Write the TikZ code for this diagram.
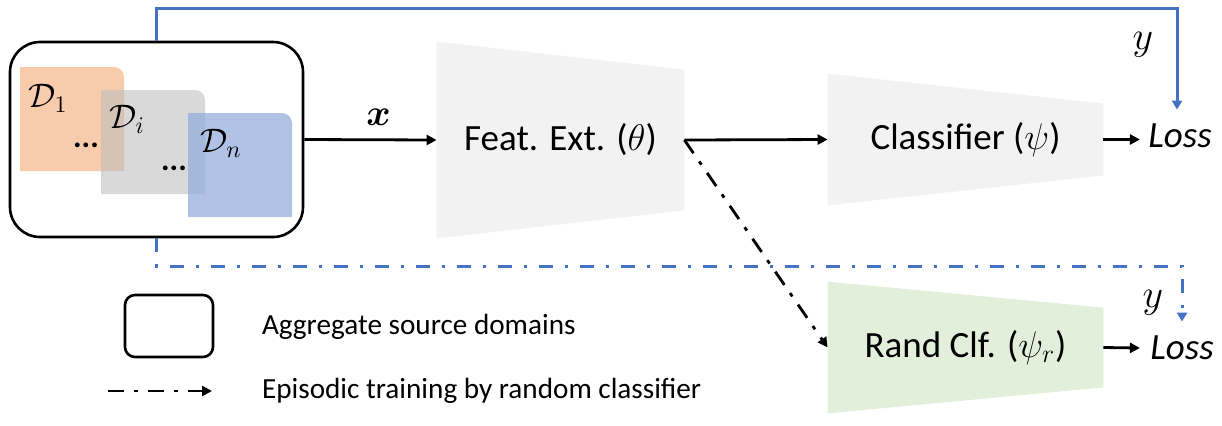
\RequirePackage{fix-cm}
\documentclass[tikz,border=0pt]{standalone}
\usepackage{amsmath,amssymb}
\usepackage{fontspec}
\setmainfont{Carlito}
\usetikzlibrary{arrows.meta}
\definecolor{fegray}{HTML}{F2F2F2}
\definecolor{clfgreen}{HTML}{E2EFDA}
\definecolor{dorange}{HTML}{F8CBAD}
\definecolor{dgray}{HTML}{BFBFBF}
\definecolor{dblue}{HTML}{8FAADC}
\definecolor{lblue}{HTML}{4472C4}
\tikzset{
  arr/.style={line width=1.4pt,-{Triangle[length=5pt,width=5pt]}},
  epi/.style={arr,dash pattern=on 8pt off 5pt on 2pt off 5pt},
  yline/.style={line width=1.5pt,lblue,-{Triangle[length=4.5pt,width=5pt]}},
  ydash/.style={yline,dash pattern=on 7pt off 6pt on 1.5pt off 6pt},
  srcbox/.style={draw,line width=1.3pt,rounded corners=#1},
  blk/.style={inner sep=0pt}
}

\begin{document}
\begin{tikzpicture}
    [x=0.5pt,y=-0.5pt,every node/.style={font=\fontsize{18.5pt}{22pt}\selectfont}]
    \useasboundingbox (0,0) rectangle (1222,425);
    % aggregated source domains
    \node[srcbox=15pt,minimum width=146.5pt,minimum height=97.5pt] (src) at (156.5,139.5) {};
    \foreach \px/\py/\col/\op in {20/67/dorange/1,101/90/dgray/0.6,188/113/dblue/0.7}
      \fill[\col,fill opacity=\op] (\px,\py+104) -- (\px,\py) -- (\px+80,\py) [rounded corners=5pt]
        -- (\px+104,\py) -- (\px+104,\py+40) [sharp corners] -- (\px+104,\py+104) -- cycle;
    \node[font=\fontsize{17pt}{20pt}\selectfont] (d1) at (48,98) {$\mathcal{D}_1$};
    \node[font=\fontsize{17pt}{20pt}\selectfont] (di) at (127,119) {$\mathcal{D}_i$};
    \node[font=\fontsize{17pt}{20pt}\selectfont] (dn) at (221,143) {$\mathcal{D}_n$};
    \node[font=\fontsize{16pt}{18pt}\bfseries] (dots1) at (86,145) {...};
    \node[font=\fontsize{16pt}{18pt}\bfseries] (dots2) at (174,168) {...};

    % feature extractor and classifiers
    \node[blk,minimum width=123.5pt,minimum height=98pt] (fe) at (560.5,140) {};
    \fill[fegray] (fe.north west) -- ([yshift=-14pt]fe.north east) -- ([yshift=14pt]fe.south east) -- (fe.south west) -- cycle;
    \node at (fe) {Feat. Ext. ($\theta$)};
    \node[blk,minimum width=137.5pt,minimum height=65.5pt] (clf) at (965.5,139.5) {};
    \fill[fegray] (clf.north west) -- ([yshift=-15pt]clf.north east) -- ([yshift=15pt]clf.south east) -- (clf.south west) -- cycle;
    \node at (clf) {Classifier ($\psi$)};
    \node[blk,minimum width=137.5pt,minimum height=65.5pt] (rclf) at (965.5,347.5) {};
    \fill[clfgreen] (rclf.north west) -- ([yshift=-13pt]rclf.north east) -- ([yshift=13pt]rclf.south east) -- (rclf.south west) -- cycle;
    \node at (rclf) {Rand Clf. ($\psi_r$)};

    \node[inner xsep=4pt,inner ysep=1pt] (loss1) at (1180,136) {\textit{Loss}};
    \node[inner xsep=5pt,inner ysep=1pt] (loss2) at (1182,348) {\textit{Loss}};

    \draw[arr] (src.east) -- (fe.west) node[midway,above=3pt,xshift=4pt] {$\boldsymbol{x}$};
    \draw[arr] (fe.east) -- (clf.west);
    \draw[arr] (clf.east) -- (loss1.west |- clf.east);
    \draw[arr] (rclf.east) -- (loss2.west);
    \draw[epi] (fe.east) -- (rclf.west);
    \draw[yline,shorten >=6pt] (src.north) -- ++(0,-32) -| ([xshift=-1.5pt]loss1.north);
    \draw[ydash,shorten >=6pt] (src.south) -- ++(0,28) -| (loss2.north);
    \node[font=\fontsize{20pt}{24pt}\selectfont] (y1) at (1143,45) {$y$};
    \node[font=\fontsize{20pt}{24pt}\selectfont] (y2) at (1153,303) {$y$};

    % legend
    \node[srcbox=5pt,minimum width=44pt,minimum height=31pt] (lgbox) at (169,326) {};
    \node[anchor=west,font=\fontsize{14.6pt}{17pt}\selectfont] (lg1) at (255,327) {Aggregate source domains};
    \node[anchor=west,font=\fontsize{14.6pt}{17pt}\selectfont] (lg2) at (255,391) {Episodic training by random classifier};
    \coordinate (lgs) at (108,391);
    \coordinate (lge) at (212,391);
    \draw[epi] (lgs) -- (lge);
\end{tikzpicture}
\end{document}
